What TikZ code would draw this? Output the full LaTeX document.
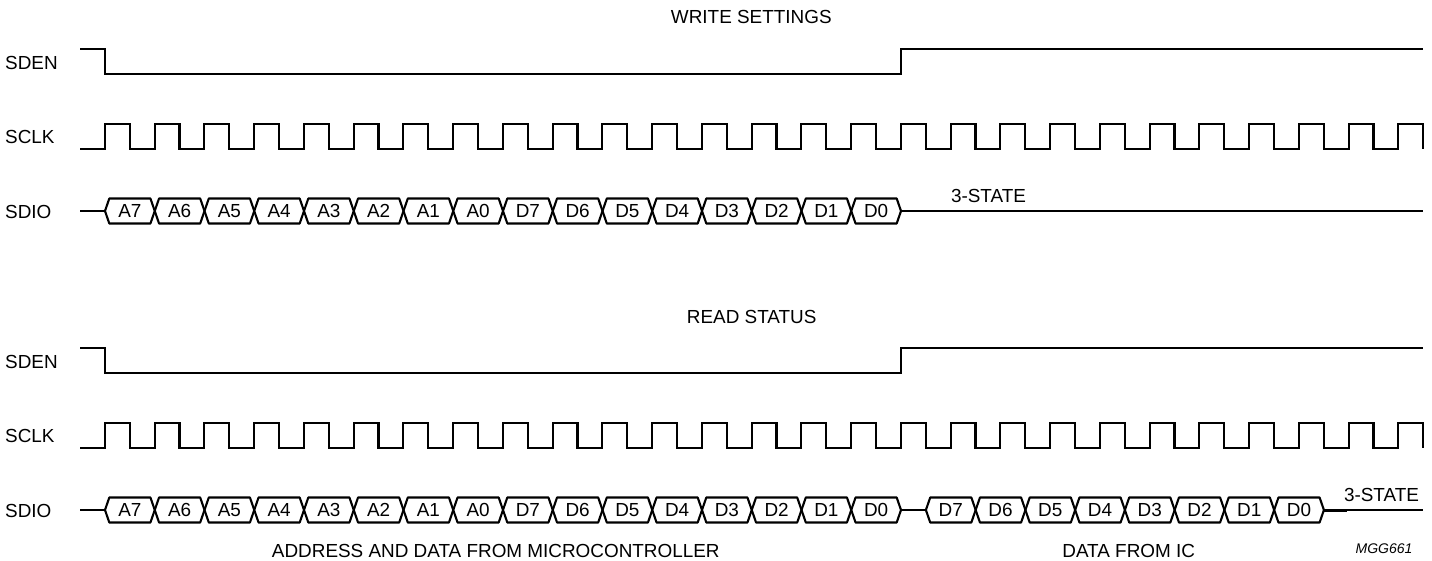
\documentclass[tikz,border=0pt]{standalone}
\usepackage{fontspec}
\setmainfont{Liberation Sans}
\usetikzlibrary{shapes.symbols}
\tikzset{
  wave/.style={line width=2.1pt,line join=miter,line cap=butt},
  siglabel/.style={anchor=west,inner sep=0pt,font=\fontsize{18.9}{20}\selectfont},
  caption/.style={inner sep=0pt,font=\fontsize{18.9}{20}\selectfont},
  bitcell/.style={draw,line width=2.1pt,line join=round,shape=signal,signal to=west and east,signal pointer angle=142,
    minimum width=49.75pt,minimum height=25pt,inner sep=0pt,outer sep=0pt,
    font=\fontsize{18.9}{20}\selectfont}
}
\begin{document}
\begin{tikzpicture}[x=1pt,y=-1pt]
\useasboundingbox (0,0) rectangle (1432,561);
\foreach \panel/\yoff in {w/0,r/299} {
\begin{scope}[yshift=-\yoff pt]
\node[siglabel] (\panel sden) at (5,62.7) {SDEN};
\node[siglabel] (\panel sclk) at (5,136.7) {SCLK};
\node[siglabel] (\panel sdio) at (5,211.7) {SDIO};
% chip enable
\draw[wave] (80,49.3) -- (105,49.3) -- (105,74) -- (901,74) -- (901,49.3) -- (1423,49.3);
% clock
\draw[wave] (80,149) \foreach \k in {0,...,26} { -- ++(24.875,0) -- ++(0,-24.7) -- ++(24.875,0) -- ++(0,24.7) };
% address and data bits
\coordinate (\panel start) at (80,211);
\foreach \bit [count=\k from 0] in {A7,A6,A5,A4,A3,A2,A1,A0,D7,D6,D5,D4,D3,D2,D1,D0} {
  \node[bitcell] (\panel\bit) at ({105+49.75*(\k+0.5)},211) {\bit};
}
\draw[wave] (\panel start) -- (\panel A7.west);
\end{scope}
}
\node[caption] (wtitle) at (751.3,17) {WRITE SETTINGS};
\node[caption] (rtitle) at (751.7,317) {READ STATUS};
% end of write frame
\coordinate (wend) at (1423,211);
\draw[wave] (wD0.east) -- (wend);
\node[caption] (wstate) at (988.5,196) {3-STATE};
% data coming back from the chip
\foreach \bit [count=\k from 0] in {D7,D6,D5,D4,D3,D2,D1,D0} {
  \node[bitcell] (i\bit) at ({925.9+49.75*(\k+0.5)},510) {\bit};
}
\draw[wave] (rD0.east) -- (iD7.west);
\coordinate (rthick) at (1347,510);
\coordinate (rend) at (1423,510);
\draw[wave,line width=3pt] (iD0.east) -- (rthick);
\draw[wave] (rthick) -- (rend);
\node[caption] (rstate) at (1381.5,495) {3-STATE};
\node[caption] (addr) at (495.8,550.5) {ADDRESS AND DATA FROM MICROCONTROLLER};
\node[caption] (icdata) at (1128.7,550.5) {DATA FROM IC};
\node[inner sep=0pt,font=\fontsize{14}{16}\selectfont\itshape] (mark) at (1384,548.3) {MGG661};
\end{tikzpicture}
\end{document}
